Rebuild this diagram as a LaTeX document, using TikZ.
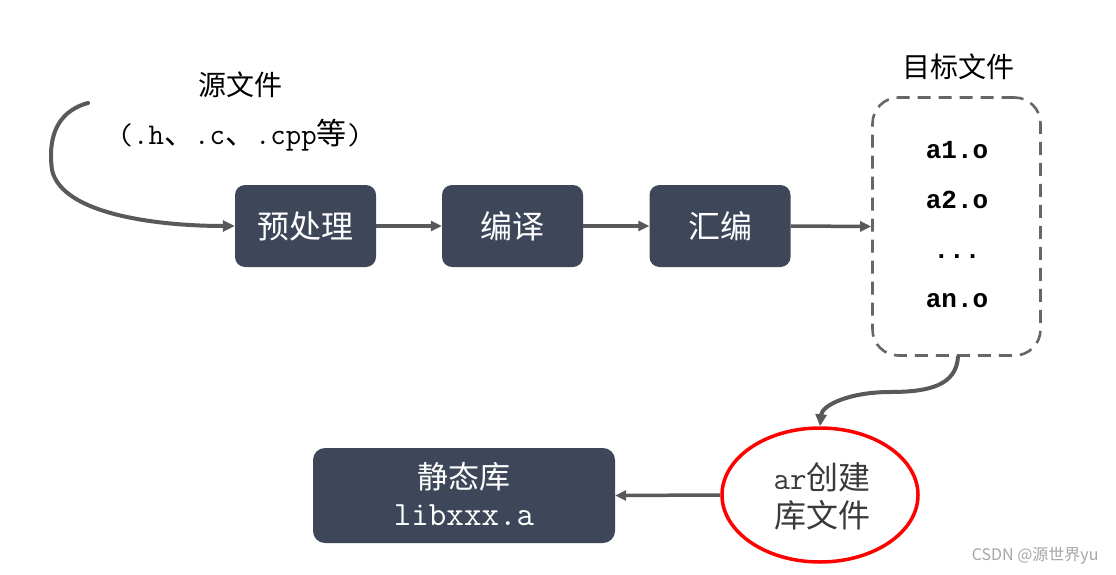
\documentclass[tikz,border=0pt]{standalone}
\usepackage{fontspec}
\setmainfont{Noto Sans CJK SC}
\setmonofont{Latin Modern Mono}
\newfontfamily\cjk{Noto Sans CJK SC}
\newfontfamily\monob{Liberation Mono}
\usetikzlibrary{arrows.meta,shapes.geometric,calc}
\definecolor{boxfill}{HTML}{3D4759}
\definecolor{arrcol}{HTML}{595959}
\definecolor{dashcol}{HTML}{666666}
\definecolor{txtcol}{HTML}{3A3A3A}
\begin{document}
\begin{tikzpicture}[x=1pt,y=-1pt,
  stepbox/.style={draw=none,fill=boxfill,rounded corners=10pt,minimum width=141pt,minimum height=82pt,text=white,font=\cjk\fontsize{32}{34}\selectfont,inner sep=0pt},
  arr/.style={draw=arrcol,line width=3.5pt,-{Triangle[length=11pt,width=10pt]}},
  curvearr/.style={draw=arrcol,line width=4pt,line cap=round,-{Triangle[length=12pt,width=11pt]}},
  objtxt/.style={font=\monob\bfseries\fontsize{26}{28}\selectfont,text=black},
  lbl/.style={font=\cjk\fontsize{28}{30}\selectfont,text=black}
]
\useasboundingbox (0,0) rectangle (1116,575);
\fill[white] (0,0) rectangle (1116,575);

% top labels
\node[lbl] (srclbl) at (240,85) {源文件};
\node[font=\fontsize{30}{32}\selectfont,text=black] (srcext) at (240,135) {{\ttfamily(.h}{\cjk、}{\ttfamily.c}{\cjk、}{\ttfamily.cpp}{\cjk 等}{\ttfamily)}};
\node[lbl] (tgtlbl) at (958,67) {目标文件};

% process boxes
\node[stepbox] (pre) at (305.5,226) {预处理};
\node[stepbox] (comp) at (512.5,226) {编译};
\node[stepbox] (asm) at (720,226) {汇编};

% dashed object box
\node[draw=dashcol,line width=2.6pt,dash pattern=on 13pt off 8pt,rounded corners=26pt,minimum width=168pt,minimum height=258pt] (tgt) at (956.5,226.5) {};
\node[objtxt] (o1) at (957,150) {a1.o};
\node[objtxt] (o2) at (957,200) {a2.o};
\node[objtxt] (o3) at (957,257) {...};
\node[objtxt] (o4) at (957,301) {an.o};

% ar ellipse
\node[draw=red,line width=3.5pt,ellipse,minimum width=196pt,minimum height=134pt,inner sep=0pt] (ar) at (820,495) {};
\node[font=\fontsize{32}{34}\selectfont,text=txtcol] (ar1) at (822,477) {{\ttfamily ar}{\cjk 创建}};
\node[font=\cjk\fontsize{32}{34}\selectfont,text=txtcol] (ar2) at (822,515) {库文件};

% static lib box
\node[draw=none,fill=boxfill,rounded corners=12pt,minimum width=302pt,minimum height=95pt] (lib) at (464,495.5) {};
\node[font=\cjk\fontsize{31}{33}\selectfont,text=white] (lib1) at (464,477) {静态库};
\node[font=\ttfamily\fontsize{34}{36}\selectfont,text=white] (lib2) at (464,515) {libxxx.a};

% connectors
\coordinate (s1) at (88,103);
\draw[curvearr] (s1) .. controls (55,112) and (48,140) .. (52,170) .. controls (62,215) and (160,226) .. (pre.west);
\draw[arr] (pre.east) -- (comp.west);
\draw[arr] (comp.east) -- (asm.west);
\draw[arr] (asm.east) -- (tgt.west);
\coordinate (s2) at (958,357);
\draw[curvearr] (s2) .. controls (956,385) and (930,392) .. (890,392) .. controls (850,392) and (822,405) .. (ar.north);
\draw[arr] (ar.west) -- (lib.east);

% watermark
\node[font=\cjk\fontsize{16}{17}\selectfont,text=gray!70,anchor=east] (wm) at (1102,556) {CSDN @源世界yu};
\end{tikzpicture}
\end{document}
